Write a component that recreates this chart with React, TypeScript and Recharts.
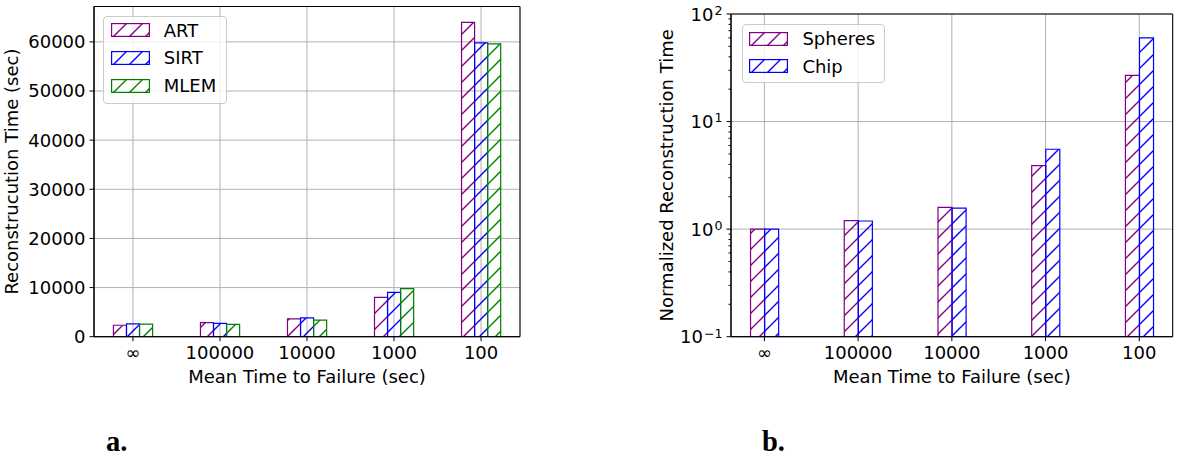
import React from 'react';
import { BarChart, Bar, XAxis, YAxis, CartesianGrid, Legend, Label, ReferenceArea } from 'recharts';

// ---------- data ----------
const categories = ['∞', '100000', '10000', '1000', '100'];

const artTimes = [2330, 2860, 3630, 8020, 63960];
const sirtTimes = [2600, 2720, 3820, 9040, 59800];
const mlemTimes = [2560, 2520, 3380, 9790, 59600];
const leftTicks = [0, 10000, 20000, 30000, 40000, 50000, 60000];
const leftYDomain: [number, number] = [0, 67200];
const leftXDomain: [number, number] = [-0.4475, 4.4475];

const spheresNorm = [1.0, 1.2, 1.59, 3.9, 26.9];
const chipNorm = [1.0, 1.19, 1.57, 5.53, 60.1];
const rightMajorTicks = [0.1, 1, 10, 100];
const rightMinorTicks = [0.2, 0.3, 0.4, 0.5, 0.6, 0.7, 0.8, 0.9, 2, 3, 4, 5, 6, 7, 8, 9, 20, 30, 40, 50, 60, 70, 80, 90];
const rightYDomain: [number, number] = [0.1, 100];
const rightXDomain: [number, number] = [-0.3565, 4.3565];

const leftYTitle = 'Reconstrucution Time (sec)';
const rightYTitle = 'Normalized Reconstruction Time';
const xTitle = 'Mean Time to Failure (sec)';

const categoryPositions = categories.map((_, i) => i);

const leftData = categories.map((c, i) => ({
  pos: i,
  label: c,
  ART: artTimes[i],
  SIRT: sirtTimes[i],
  MLEM: mlemTimes[i],
}));

const rightData = categories.map((c, i) => ({
  pos: i,
  label: c,
  Spheres: spheresNorm[i],
  Chip: chipNorm[i],
}));

// ---------- styles ----------
const FONT = "'DejaVu Sans', Verdana, sans-serif";
const SERIF = "'Liberation Serif', 'Times New Roman', serif";
const PURPLE = '#800080';
const BLUE = '#0000ff';
const GREEN = '#008000';
const GRID = '#b0b0b0';

const leftSeries = [
  { key: 'ART', color: PURPLE, pattern: 'hatch-purple' },
  { key: 'SIRT', color: BLUE, pattern: 'hatch-blue' },
  { key: 'MLEM', color: GREEN, pattern: 'hatch-green' },
];
const rightSeries = [
  { key: 'Spheres', color: PURPLE, pattern: 'hatch-purple' },
  { key: 'Chip', color: BLUE, pattern: 'hatch-blue' },
];

const hatches = [
  { id: 'hatch-purple', color: PURPLE },
  { id: 'hatch-blue', color: BLUE },
  { id: 'hatch-green', color: GREEN },
];

const TICK_SIZE = 4.5;
const Y_TICK_MARGIN = 4;
const X_TICK_MARGIN = 5.5;

const fmtCategory = (v: number) => categories[Math.round(v)] ?? '';

const LegendBox = (props: any) => {
  const { series, w, h } = props;
  return (
    <div
      style={{
        position: 'relative',
        boxSizing: 'border-box',
        width: w,
        height: h,
        border: '1px solid #cccccc',
        borderRadius: 4,
        background: 'rgba(255,255,255,0.8)',
        fontFamily: FONT,
        fontSize: 18,
        color: '#000',
      }}
    >
      {series.map((s: any, i: number) => {
        const cy = 14 + i * 27.6;
        return (
          <React.Fragment key={s.key}>
            <svg style={{ position: 'absolute', left: 6.3, top: cy - 7.3 }} width={39} height={14}>
              <rect x={0.6} y={0.6} width={37.8} height={12.8} fill={`url(#${s.pattern})`} stroke={s.color} strokeWidth={1.2} />
            </svg>
            <span style={{ position: 'absolute', left: 59.5, top: cy - 9, lineHeight: '18px', whiteSpace: 'nowrap' }}>
              {s.key}
            </span>
          </React.Fragment>
        );
      })}
    </div>
  );
};

const YTitle = (props: any) => {
  const { viewBox, text, baseX } = props;
  const vb = viewBox || { x: 0, y: 0, width: 0, height: 0 };
  const cy = vb.y + vb.height / 2;
  return (
    <text
      transform={`translate(${vb.x + baseX}, ${cy}) rotate(-90)`}
      textAnchor="middle"
      fontSize={18}
      fill="#000"
      fontFamily={FONT}
    >
      {text}
    </text>
  );
};

const XTitle = (props: any) => {
  const { viewBox, text } = props;
  const vb = viewBox || { x: 0, y: 0, width: 0, height: 0 };
  return (
    <text x={vb.x + vb.width / 2} y={vb.y + 46.3} textAnchor="middle" fontSize={18} fill="#000" fontFamily={FONT}>
      {text}
    </text>
  );
};

const LogTick = (props: any) => {
  const { x, y, payload } = props;
  const v = Number(payload?.value);
  const axisX = x + TICK_SIZE + Y_TICK_MARGIN;
  const major = rightMajorTicks.some((m) => Math.abs(m - v) < 1e-9);
  const exp = Math.round(Math.log10(v));
  return (
    <g>
      <line x1={axisX - (major ? TICK_SIZE : 2.5)} x2={axisX} y1={y} y2={y} stroke="#000" strokeWidth={1} />
      {major && (
        <text x={x} y={y + 6.5} textAnchor="end" fontSize={18} fill="#000" fontFamily={FONT}>
          10
          <tspan dx={1} dy={-5.7} fontSize={12.6}>
            {exp < 0 ? '\u2212' + Math.abs(exp) : String(exp)}
          </tspan>
        </text>
      )}
    </g>
  );
};

const allRightTicks = [...rightMajorTicks, ...rightMinorTicks].sort((a, b) => a - b);

export default function App() {
  return (
    <div
      style={{
        position: 'absolute',
        left: 0,
        top: 0,
        width: 1178,
        height: 456,
        background: '#fff',
        fontFamily: FONT,
        overflow: 'hidden',
      }}
    >
      <svg width={1178} height={456} style={{ position: 'absolute', left: 0, top: 0 }}>
        <defs>
          {hatches.map((h) => (
            <pattern key={h.id} id={h.id} patternUnits="userSpaceOnUse" width={16} height={16}>
              <path d="M-4,4 L4,-4 M0,16 L16,0 M12,20 L20,12" stroke={h.color} strokeWidth={1.4} fill="none" />
            </pattern>
          ))}
        </defs>
        <text x={106} y={451} fontFamily={SERIF} fontWeight="bold" fontSize={28.5} fill="#000">
          a.
        </text>
        <text x={762} y={451} fontFamily={SERIF} fontWeight="bold" fontSize={28.5} fill="#000">
          b.
        </text>
      </svg>

      {/* Left chart */}
      <div style={{ position: 'absolute', left: 0, top: 0 }}>
        <BarChart width={560} height={400} data={leftData} margin={{ top: 6.5, right: 40, bottom: 0, left: 0 }} barGap={0}>
          <CartesianGrid stroke={GRID} strokeWidth={1} />
          <XAxis
            dataKey="pos"
            type="number"
            domain={leftXDomain}
            allowDataOverflow
            ticks={categoryPositions}
            interval={0}
            tickFormatter={fmtCategory}
            height={63.3}
            tickSize={TICK_SIZE}
            tickMargin={X_TICK_MARGIN}
            tick={{ fill: '#000', fontSize: 18 }}
            stroke="#000"
            axisLine={{ stroke: '#000' }}
            tickLine={{ stroke: '#000' }}
          >
            <Label content={(p: any) => <XTitle viewBox={p.viewBox} text={xTitle} />} />
          </XAxis>
          <YAxis
            type="number"
            domain={leftYDomain}
            allowDataOverflow
            ticks={leftTicks}
            interval={0}
            width={94}
            tickSize={TICK_SIZE}
            tickMargin={Y_TICK_MARGIN}
            tick={{ fill: '#000', fontSize: 18 }}
            stroke="#000"
            axisLine={{ stroke: '#000' }}
            tickLine={{ stroke: '#000' }}
          >
            <Label content={(p: any) => <YTitle viewBox={p.viewBox} text={leftYTitle} baseX={18.4} />} />
          </YAxis>
          {leftSeries.map((s) => (
            <Bar
              key={s.key}
              dataKey={s.key}
              name={s.key}
              fill={`url(#${s.pattern})`}
              stroke={s.color}
              strokeWidth={1.2}
              barSize={13.05}
              isAnimationActive={false}
            />
          ))}
          <ReferenceArea
            x1={leftXDomain[0]}
            x2={leftXDomain[1]}
            y1={leftYDomain[0]}
            y2={leftYDomain[1]}
            fill="none"
            fillOpacity={0}
            stroke="#000"
            strokeWidth={1}
            ifOverflow="visible"
          />
          <Legend
            layout="vertical"
            align="center"
            verticalAlign="middle"
            wrapperStyle={{ left: 103.3, top: 15.7, width: 123.4, height: 88.3 }}
            content={() => <LegendBox series={leftSeries} w={123.4} h={88.3} />}
          />
        </BarChart>
      </div>

      {/* Right chart */}
      <div style={{ position: 'absolute', left: 600, top: 0 }}>
        <BarChart width={578} height={400} data={rightData} margin={{ top: 14, right: 5.3, bottom: 0, left: 0 }} barGap={0}>
          <CartesianGrid stroke={GRID} strokeWidth={1} horizontalValues={rightMajorTicks} />
          <XAxis
            dataKey="pos"
            type="number"
            domain={rightXDomain}
            allowDataOverflow
            ticks={categoryPositions}
            interval={0}
            tickFormatter={fmtCategory}
            height={63.3}
            tickSize={TICK_SIZE}
            tickMargin={X_TICK_MARGIN}
            tick={{ fill: '#000', fontSize: 18 }}
            stroke="#000"
            axisLine={{ stroke: '#000' }}
            tickLine={{ stroke: '#000' }}
          >
            <Label content={(p: any) => <XTitle viewBox={p.viewBox} text={xTitle} />} />
          </XAxis>
          <YAxis
            type="number"
            scale="log"
            domain={rightYDomain}
            allowDataOverflow
            ticks={allRightTicks}
            interval={0}
            width={131}
            tickSize={TICK_SIZE}
            tickMargin={Y_TICK_MARGIN}
            tick={<LogTick />}
            tickLine={false}
            stroke="#000"
            axisLine={{ stroke: '#000' }}
          >
            <Label content={(p: any) => <YTitle viewBox={p.viewBox} text={rightYTitle} baseX={72.5} />} />
          </YAxis>
          {rightSeries.map((s) => (
            <Bar
              key={s.key}
              dataKey={s.key}
              name={s.key}
              fill={`url(#${s.pattern})`}
              stroke={s.color}
              strokeWidth={1.2}
              barSize={14.05}
              isAnimationActive={false}
            />
          ))}
          <ReferenceArea
            x1={rightXDomain[0]}
            x2={rightXDomain[1]}
            y1={rightYDomain[0]}
            y2={rightYDomain[1]}
            fill="none"
            fillOpacity={0}
            stroke="#000"
            strokeWidth={1}
            ifOverflow="visible"
          />
          <Legend
            layout="vertical"
            align="center"
            verticalAlign="middle"
            wrapperStyle={{ left: 141.9, top: 24, width: 142.8, height: 59.3 }}
            content={() => <LegendBox series={rightSeries} w={142.8} h={59.3} />}
          />
        </BarChart>
      </div>
    </div>
  );
}
